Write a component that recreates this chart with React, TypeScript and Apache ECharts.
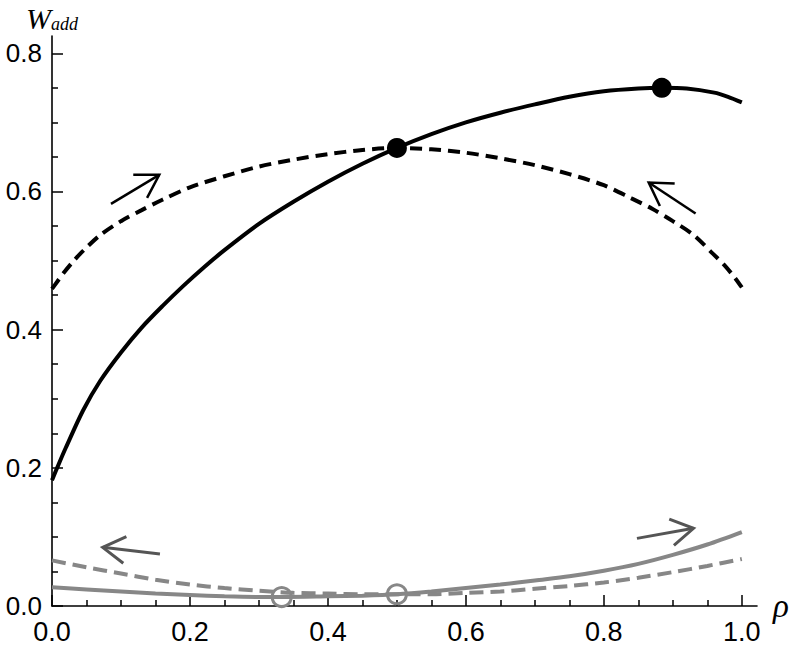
import React, { useEffect, useRef } from "react";
import * as echarts from "echarts";

// rho, W_add pairs
const blackSolid: number[][] = [
  [0, 0.182], [0.01, 0.206], [0.02, 0.229], [0.045, 0.283], [0.07, 0.326], [0.1, 0.367],
  [0.13, 0.403], [0.16, 0.434], [0.19, 0.463], [0.22, 0.49], [0.25, 0.515], [0.3, 0.553],
  [0.35, 0.585], [0.4, 0.614], [0.45, 0.64], [0.5, 0.663], [0.55, 0.683], [0.6, 0.7],
  [0.65, 0.714], [0.7, 0.726], [0.75, 0.737], [0.8, 0.745], [0.85, 0.749], [0.884, 0.75],
  [0.92, 0.749], [0.96, 0.743], [0.98, 0.737], [1.0, 0.729],
];
const blackDashed: number[][] = [
  [0, 0.459], [0.008, 0.47], [0.016, 0.481], [0.03, 0.498], [0.045, 0.514], [0.07, 0.537],
  [0.1, 0.557], [0.13, 0.573], [0.16, 0.588], [0.2, 0.606], [0.25, 0.622], [0.3, 0.636],
  [0.35, 0.646], [0.4, 0.654], [0.45, 0.66], [0.5, 0.663], [0.55, 0.661], [0.6, 0.656],
  [0.65, 0.648], [0.7, 0.638], [0.75, 0.625], [0.8, 0.609], [0.84, 0.59], [0.87, 0.575],
  [0.9, 0.557], [0.93, 0.537], [0.958, 0.51], [0.975, 0.493], [0.99, 0.475], [1.0, 0.461],
];
const graySolid: number[][] = [
  [0, 0.027], [0.05, 0.024], [0.1, 0.021], [0.15, 0.018], [0.2, 0.016], [0.25, 0.014],
  [0.3, 0.013], [0.333, 0.013], [0.4, 0.014], [0.45, 0.015], [0.5, 0.017], [0.55, 0.021],
  [0.6, 0.026], [0.65, 0.031], [0.7, 0.037], [0.75, 0.043], [0.8, 0.051], [0.85, 0.061],
  [0.9, 0.074], [0.95, 0.089], [1.0, 0.107],
];
const grayDashed: number[][] = [
  [0, 0.066], [0.05, 0.056], [0.1, 0.047], [0.15, 0.038], [0.2, 0.031], [0.25, 0.026],
  [0.3, 0.022], [0.35, 0.019], [0.4, 0.018], [0.45, 0.017], [0.5, 0.017], [0.55, 0.017],
  [0.6, 0.019], [0.65, 0.021], [0.7, 0.025], [0.75, 0.029], [0.8, 0.034], [0.85, 0.041],
  [0.9, 0.049], [0.95, 0.058], [1.0, 0.068],
];
const blackDots: number[][] = [[0.5, 0.663], [0.884, 0.75]];
const grayRings: number[][] = [[0.333, 0.013], [0.5, 0.017]];
// arrows: tail rho, tail W, tip rho, tip W
const blackArrows: number[][] = [
  [0.0855, 0.582, 0.1555, 0.624],
  [0.933, 0.568, 0.865, 0.613],
];
const grayArrows: number[][] = [
  [0.1565, 0.0752, 0.0735, 0.0849],
  [0.848, 0.0979, 0.93, 0.1124],
];
const xMajorTicks = [0, 0.2, 0.4, 0.6, 0.8, 1.0];
const xMinorTicks = [0.05, 0.1, 0.15, 0.25, 0.3, 0.35, 0.45, 0.5, 0.55, 0.65, 0.7, 0.75, 0.85, 0.9, 0.95];
const yMajorTicks = [0, 0.2, 0.4, 0.6, 0.8];
const yMinorTicks = [0.05, 0.1, 0.15, 0.25, 0.3, 0.35, 0.45, 0.5, 0.55, 0.65, 0.7, 0.75];

const X_MAX = 1.022;
const Y_MAX = 0.825;
const GRAY = "#878787";
const ARROW_GRAY = "#555555";

function arrowRenderer(color: string, width: number) {
  return (params: any, api: any) => {
    const p1 = api.coord([api.value(0), api.value(1)]);
    const p2 = api.coord([api.value(2), api.value(3)]);
    const dx = p1[0] - p2[0];
    const dy = p1[1] - p2[1];
    const len = Math.hypot(dx, dy) || 1;
    const ux = dx / len;
    const uy = dy / len;
    const L = 26;
    const a = (31 * Math.PI) / 180;
    const arm = (ang: number) => [
      p2[0] + L * (ux * Math.cos(ang) - uy * Math.sin(ang)),
      p2[1] + L * (ux * Math.sin(ang) + uy * Math.cos(ang)),
    ];
    return {
      type: "group",
      children: [
        { type: "line", shape: { x1: p1[0], y1: p1[1], x2: p2[0], y2: p2[1] }, style: { stroke: color, lineWidth: width } },
        { type: "polyline", shape: { points: [arm(a), p2, arm(-a)] }, style: { stroke: color, lineWidth: width, fill: null } },
      ],
    };
  };
}

export default function App() {
  const ref = useRef<HTMLDivElement>(null);
  useEffect(() => {
    if (!ref.current) return;
    const chart = echarts.init(ref.current, null, { renderer: "svg" });
    const labelFont = { fontFamily: "Liberation Sans", color: "#000" };
    const axisLine = { show: true, lineStyle: { color: "#000", width: 1.6 } };
    chart.setOption({
      animation: false,
      backgroundColor: "#fff",
      grid: { left: 52, right: 40, top: 36, bottom: 39, containLabel: false, outerBoundsMode: "none" },
      xAxis: [
        {
          type: "value", min: 0, max: X_MAX, position: "bottom",
          axisLine,
          splitLine: { show: false },
          axisTick: { show: true, inside: true, length: 11, customValues: xMajorTicks, lineStyle: { color: "#000", width: 1.5 } },
          axisLabel: { ...labelFont, fontSize: 27, margin: 12, customValues: xMajorTicks, formatter: (v: number) => v.toFixed(1) },
          name: "ρ", nameLocation: "end", nameGap: 16,
          nameTextStyle: { fontFamily: "Liberation Serif", fontStyle: "italic", fontSize: 33, color: "#000", padding: [0, 0, 4, 0] },
        },
        {
          type: "value", min: 0, max: X_MAX, position: "bottom",
          axisLine: { show: false }, splitLine: { show: false }, axisLabel: { show: false },
          axisTick: { show: true, inside: true, length: 6, customValues: xMinorTicks, lineStyle: { color: "#000", width: 1.5 } },
        },
      ],
      yAxis: [
        {
          type: "value", min: 0, max: Y_MAX, position: "left",
          axisLine,
          splitLine: { show: false },
          axisTick: { show: true, inside: true, length: 11, customValues: yMajorTicks, lineStyle: { color: "#000", width: 1.5 } },
          axisLabel: { ...labelFont, fontSize: 26, margin: 10, customValues: yMajorTicks, formatter: (v: number) => v.toFixed(1) },
          name: "{w|W}{s|add}", nameLocation: "end", nameGap: 3,
          nameTextStyle: {
            rich: {
              w: { fontFamily: "Liberation Serif", fontStyle: "italic", fontSize: 30, lineHeight: 27, verticalAlign: "bottom", color: "#000" },
              s: { fontFamily: "Liberation Serif", fontStyle: "italic", fontSize: 18, lineHeight: 14, verticalAlign: "bottom", color: "#000" },
            },
          },
        },
        {
          type: "value", min: 0, max: Y_MAX, position: "left",
          axisLine: { show: false }, splitLine: { show: false }, axisLabel: { show: false },
          axisTick: { show: true, inside: true, length: 6, customValues: yMinorTicks, lineStyle: { color: "#000", width: 1.5 } },
        },
      ],
      series: [
        { type: "line", name: "gray solid", data: graySolid, showSymbol: false, smooth: 0.3, lineStyle: { color: GRAY, width: 4 }, z: 2 },
        { type: "line", name: "gray dashed", data: grayDashed, showSymbol: false, smooth: 0.3, lineStyle: { color: GRAY, width: 4, type: [14, 7] }, z: 2 },
        { type: "line", name: "black solid", data: blackSolid, showSymbol: false, smooth: 0.3, lineStyle: { color: "#000", width: 4 }, z: 3 },
        { type: "line", name: "black dashed", data: blackDashed, showSymbol: false, smooth: 0.3, lineStyle: { color: "#000", width: 4, type: [12, 7] }, z: 3 },
        { type: "scatter", name: "black points", data: blackDots, symbol: "circle", symbolSize: 20, itemStyle: { color: "#000", opacity: 1 }, z: 5 },
        { type: "scatter", name: "gray points", data: grayRings, symbol: "circle", symbolSize: 19, itemStyle: { color: "transparent", borderColor: GRAY, borderWidth: 3, opacity: 1 }, z: 5 },
        { type: "custom", name: "black arrows", data: blackArrows, renderItem: arrowRenderer("#000", 2.5), clip: false, z: 6 },
        { type: "custom", name: "gray arrows", data: grayArrows, renderItem: arrowRenderer(ARROW_GRAY, 3), clip: false, z: 6 },
      ],
    });
    return () => chart.dispose();
  }, []);
  return <div ref={ref} style={{ width: 797, height: 645, position: "absolute", left: 0, top: 0 }} />;
}
